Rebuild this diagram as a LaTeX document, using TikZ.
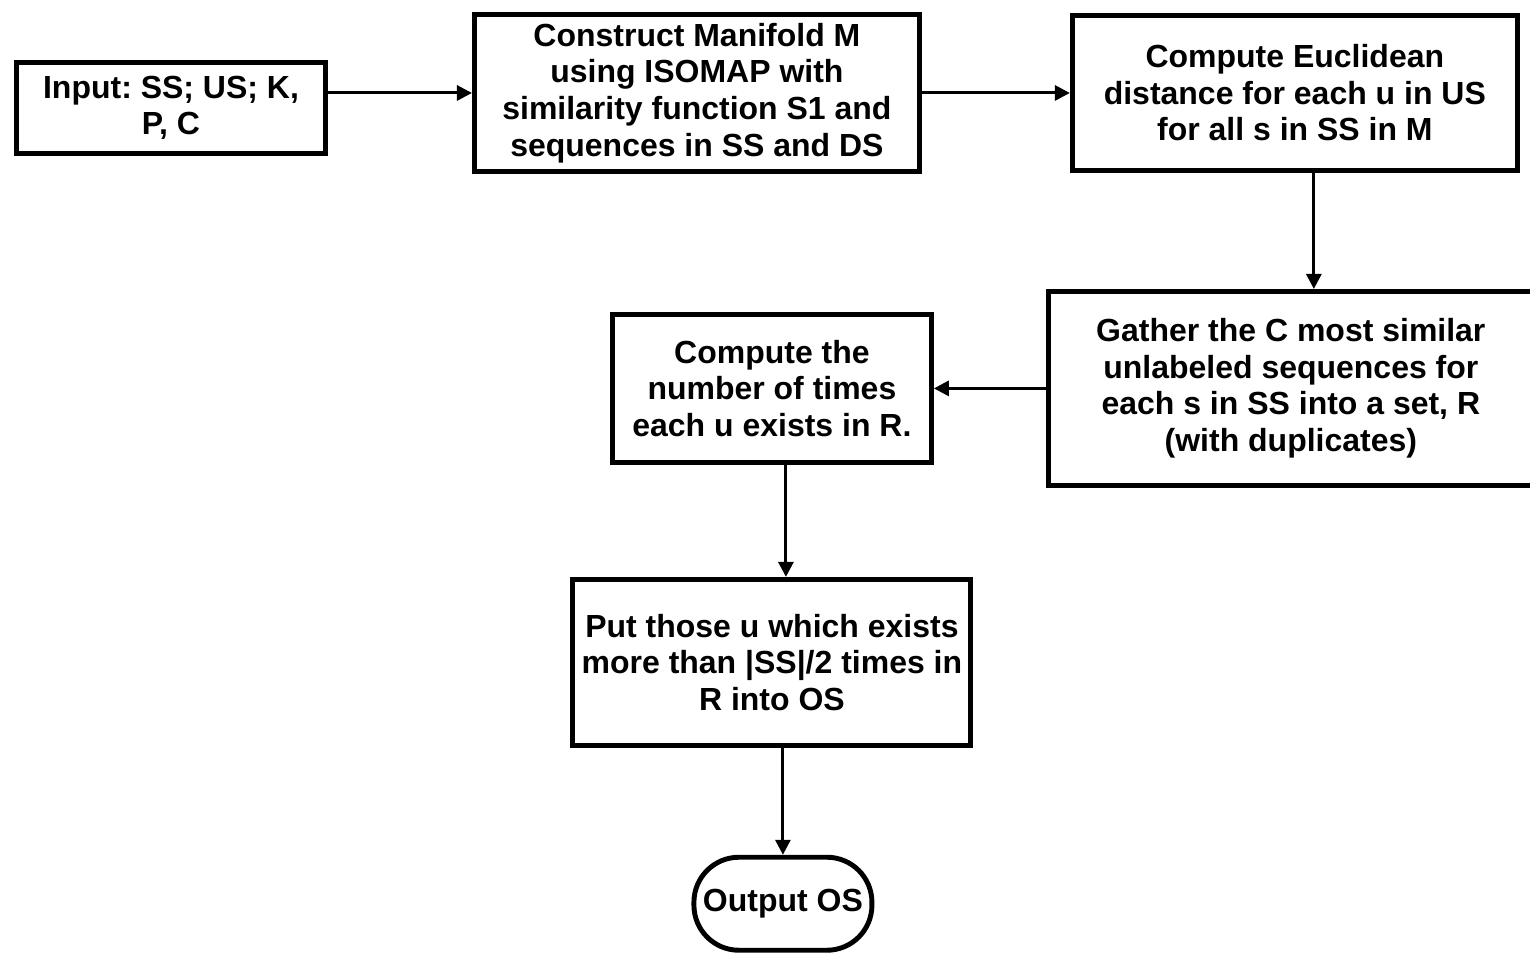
\documentclass[tikz,border=0pt]{standalone}
\usepackage{fontspec}
\setmainfont{Liberation Sans}
\usetikzlibrary{arrows.meta, shapes, positioning}
\frenchspacing

\begin{document}
\begin{tikzpicture}[box/.style={draw, line width=1.4pt, align=center, inner sep=0pt,
                      font=\fontsize{9.1}{10.4}\selectfont\bfseries},
                    arr/.style={line width=0.85pt, -{Triangle[length=0.15cm, width=0.15cm]}}]
        \useasboundingbox (0,0) rectangle (15.30,9.54);

        \draw node[box, minimum width=3.09cm, minimum height=0.91cm] (in) at (1.71,8.46)
              {Input: SS; US; K,\\ P, C};
        \draw node[box, minimum width=4.45cm, minimum height=1.57cm, right=1.44 of in, yshift=0.15cm] (construct)
              {Construct Manifold M\\ using ISOMAP with\\ similarity function S1 and\\ sequences in SS and DS};
        \draw node[box, minimum width=4.45cm, minimum height=1.55cm, right=1.48 of construct] (euclid)
              {Compute Euclidean\\ distance for each u in US\\ for all s in SS in M};
        \draw node[box, minimum width=4.85cm, minimum height=1.94cm, below=1.16 of euclid, xshift=-0.04cm] (gather)
              {Gather the C most similar\\ unlabeled sequences for\\ each s in SS into a set, R\\ (with duplicates)};
        \draw node[box, minimum width=3.19cm, minimum height=1.48cm, left=1.12 of gather] (count)
              {Compute the\\ number of times\\ each u exists in R.};
        \draw node[box, minimum width=3.98cm, minimum height=1.66cm, below=1.12 of count] (put)
              {Put those u which exists\\ more than |SS|/2 times in\\ R into OS};
        \draw node[box, rounded corners=0.45cm, minimum width=1.78cm, minimum height=0.93cm,
                   below=1.07 of put, xshift=0.11cm] (out) {Output OS};

        \draw[arr] (in.east |- construct.west) -- (construct.west);
        \draw[arr] (construct.east) -- (euclid.east -| euclid.west);
        \draw[arr] ([xshift=0.19cm]euclid.south) -- ([xshift=0.19cm]euclid.south |- gather.north);
        \draw[arr] (gather.west |- count.east) -- (count.east);
        \draw[arr] ([xshift=0.14cm]count.south) -- ([xshift=0.14cm]count.south |- put.north);
        \draw[arr] (put.south -| out.north) -- (out.north);
      \end{tikzpicture}
\end{document}
